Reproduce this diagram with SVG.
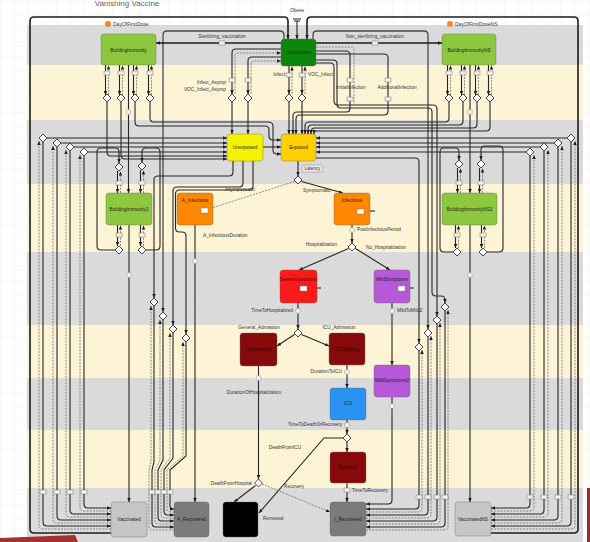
<svg xmlns="http://www.w3.org/2000/svg" width="590" height="542" viewBox="0 0 590 542">
<defs>
<style>
text{font-family:"Liberation Sans",Arial,sans-serif}
.l{font-size:4.8px;fill:#333}
.e{text-anchor:end}
.m{text-anchor:middle}
.n{font-size:4.8px;fill:#1d1d1d;text-anchor:middle}
.s{fill:none;stroke:#262626;stroke-width:1.1}
.t{fill:none;stroke:#1c1c1c;stroke-width:1.6}
.d{fill:none;stroke:#6a6a6a;stroke-width:0.75;stroke-dasharray:2 1.2}
.o{fill:none;stroke:#4a4a4a;stroke-width:1.3}
.dm{fill:#fff;stroke:#333;stroke-width:0.9}
.bx{fill:#efefef;stroke:#7a7a7a;stroke-width:0.5}
.ci{fill:#f3f3f3;stroke:#9a9a9a;stroke-width:0.6}
.a{marker-end:url(#ah)}
.nd{stroke:#666;stroke-width:0.4}
</style>
<marker id="ah" viewBox="0 0 6 6" refX="6" refY="3" markerWidth="4" markerHeight="4" markerUnits="userSpaceOnUse" orient="auto"><path d="M0,0.4 L6,3 L0,5.6 Z" fill="#1e1e1e"/></marker>
<pattern id="grid" width="14" height="14" patternUnits="userSpaceOnUse"><path d="M14,0 L0,0 0,14" fill="none" stroke="#e3e3e3" stroke-width="0.6"/></pattern>
<polygon id="dia" points="0,-4 4,0 0,4 -4,0" class="dm"/>
<rect id="box" x="-3" y="-2" width="6" height="4" class="bx"/>
<circle id="cir" r="2.5" class="ci"/>
</defs>

<rect width="590" height="542" fill="#fff"/>
<rect width="590" height="542" fill="url(#grid)"/>
<g id="lanes" opacity="0.93">
<rect x="27" y="25" width="556" height="40" fill="#d8d8d8"/>
<rect x="27" y="65" width="556" height="55" fill="#fdf4d3"/>
<rect x="27" y="120" width="556" height="64" fill="#d8d8d8"/>
<rect x="27" y="184" width="556" height="68" fill="#fdf4d3"/>
<rect x="27" y="252" width="556" height="73" fill="#d8d8d8"/>
<rect x="27" y="325" width="556" height="53" fill="#fdf4d3"/>
<rect x="27" y="378" width="556" height="52" fill="#d8d8d8"/>
<rect x="27" y="430" width="556" height="58" fill="#fdf4d3"/>
<rect x="27" y="488" width="556" height="54" fill="#d8d8d8"/>
</g>
<text x="127" y="6" style="font-size:8px;fill:#666" text-anchor="middle">Vanishing Vaccine</text>

<g id="connectors">
<path class="t a" d="M111,533 L34,533 Q30,533 30,529 L30,21 Q30,17 34,17 L284,17 Q288,17 288,21 L288,39"/>
<path class="t a" d="M491,533 L574,533 Q578,533 578,529 L578,21 Q578,17 574,17 L311,17 Q307,17 307,21 L307,39"/>
<path class="s a" d="M297,21 L297,39"/>
<path class="s" d="M293,19 L301,19 M294,21 L300,21"/>
<path class="o a" d="M284,39 L284,35 Q284,31 280,31 L167,31 Q163,31 163,35 L163,312"/>
<path class="o a" d="M313,39 L313,35 Q313,31 317,31 L424,31 Q428,31 428,35 L428,329"/>
<path class="t a" d="M281,43 L156,43"/>
<path class="t a" d="M316,43 L442,43"/>
<path class="s a" d="M105.5,65 L105.5,95"/><path class="s a" d="M119.5,65 L119.5,95"/><path class="s a" d="M133.5,65 L133.5,95"/><path class="s a" d="M148.5,65 L148.5,95"/>
<path class="d a" d="M108.5,95 L108.5,65.5"/><path class="d a" d="M122.5,95 L122.5,65.5"/><path class="d a" d="M136.5,95 L136.5,65.5"/><path class="d a" d="M151.5,95 L151.5,65.5"/>
<path class="s a" d="M447.5,65 L447.5,95"/><path class="s a" d="M461.5,65 L461.5,95"/><path class="s a" d="M475.5,65 L475.5,95"/><path class="s a" d="M488.5,65 L488.5,95"/>
<path class="d a" d="M450.5,95 L450.5,65.5"/><path class="d a" d="M464.5,95 L464.5,65.5"/><path class="d a" d="M478.5,95 L478.5,65.5"/><path class="d a" d="M491.5,95 L491.5,65.5"/>
<path class="s a" d="M128.5,65 L128.5,193"/>
<path class="s a" d="M129,225 L129,502"/>
<path class="s a" d="M470,65 L470,193"/>
<path class="s a" d="M470,225 L470,502"/>
<path class="s a" d="M107,102 L107,152 Q107,156 111,156 L227,156"/>
<path class="s a" d="M121,102 L121,155 Q121,159 125,159 L227,159"/>
<path class="s a" d="M135,102 L135,122 Q135,126 139,126 L265,126 Q269,126 269,130 L269,136 Q269,140 273,140 L281,140"/>
<path class="s a" d="M150,102 L150,118 Q150,122 154,122 L268,122 Q273,122 273,126 L273,150 Q273,154 277,154 L281,154"/>
<path class="s a" d="M263,147 L281,147"/>
<path class="s a" d="M449,102 L449,118 Q449,122 445,122 L309,122 Q305,122 305,126 L305,134"/>
<path class="s a" d="M463,102 L463,121 Q463,125 459,125 L312,125 Q308,125 308,129 L308,134"/>
<path class="s a" d="M477,102 L477,124 Q477,128 473,128 L315,128 Q311,128 311,132 L311,134"/>
<path class="s a" d="M490,102 L490,127 Q490,131 486,131 L316,131 Q314,131 314,133 L314,134"/>
<path class="s a" d="M47,138 L227,138"/>
<path class="s a" d="M61,143 L227,143"/>
<path class="s a" d="M74,147 L227,147"/>
<path class="s a" d="M88,152 L227,152"/>
<path class="s a" d="M43,142 L43,522 Q43,526 47,526 L111,526"/>
<path class="d a" d="M111,529 L43,529 Q39,529 39,525 L39,141"/>
<path class="s a" d="M57,147 L57,516 Q57,520 61,520 L111,520"/>
<path class="d a" d="M111,523 L57,523 Q53,523 53,519 L53,146"/>
<path class="s a" d="M70,151 L70,510 Q70,514 74,514 L111,514"/>
<path class="d a" d="M111,517 L70,517 Q66,517 66,513 L66,150"/>
<path class="s a" d="M84,156 L84,504 Q84,508 88,508 L111,508"/>
<path class="d a" d="M111,511 L84,511 Q80,511 80,507 L80,155"/>
<path class="s a" d="M567,138 L316,138"/>
<path class="s a" d="M554,143 L316,143"/>
<path class="s a" d="M540,147 L316,147"/>
<path class="s a" d="M526,152 L316,152"/>
<path class="s a" d="M571,142 L571,522 Q571,526 567,526 L491,526"/>
<path class="d a" d="M491,529 L571,529 Q575,529 575,525 L575,141"/>
<path class="s a" d="M558,147 L558,516 Q558,520 554,520 L491,520"/>
<path class="d a" d="M491,523 L558,523 Q562,523 562,519 L562,146"/>
<path class="s a" d="M544,151 L544,510 Q544,514 540,514 L491,514"/>
<path class="d a" d="M491,517 L544,517 Q548,517 548,513 L548,150"/>
<path class="s a" d="M530,156 L530,504 Q530,508 526,508 L491,508"/>
<path class="d a" d="M491,511 L530,511 Q534,511 534,507 L534,155"/>
<path class="s a" d="M115,250 L101,250 Q97,250 97,246 L97,152 Q97,148 101,148 L115,148 Q119,148 119,152 L119,163"/>
<path class="s a" d="M146,250 L156,250 Q160,250 160,246 L160,152 Q160,148 156,148 L146,148 Q142,148 142,152 L142,162"/>
<path class="s a" d="M117.5,171 L117.5,193"/><path class="d a" d="M120.5,193 L120.5,171.5"/>
<path class="s a" d="M140.5,170 L140.5,193"/><path class="d a" d="M143.5,193 L143.5,170.5"/>
<path class="s a" d="M117.5,225 L117.5,246"/><path class="d a" d="M120.5,246 L120.5,225.5"/>
<path class="s a" d="M140.5,225 L140.5,246"/><path class="d a" d="M143.5,246 L143.5,225.5"/>
<path class="s a" d="M453,252 L444,252 Q440,252 440,248 L440,152 Q440,148 444,148 L455,148 Q459,148 459,152 L459,160"/>
<path class="s a" d="M487,252 L499,252 Q503,252 503,248 L503,150 Q503,146 499,146 L485,146 Q481,146 481,150 L481,160"/>
<path class="s a" d="M457.5,168 L457.5,193"/><path class="d a" d="M460.5,193 L460.5,168.5"/>
<path class="s a" d="M479.5,168 L479.5,193"/><path class="d a" d="M482.5,193 L482.5,168.5"/>
<path class="s a" d="M455.5,225 L455.5,248"/><path class="d a" d="M458.5,248 L458.5,225.5"/>
<path class="s a" d="M481.5,225 L481.5,248"/><path class="d a" d="M484.5,248 L484.5,225.5"/>
<path class="s a" d="M281,49 L236,49 Q232,49 232,53 L232,94"/>
<path class="d a" d="M235,94 L235,56 Q235,53 238,53 L281,53"/>
<path class="s a" d="M281,57 L252,57 Q248,57 248,61 L248,94"/>
<path class="d a" d="M251,94 L251,64 Q251,61 254,61 L281,61"/>
<path class="s a" d="M289,66 L289,94"/><path class="d a" d="M292,94 L292,66.5"/>
<path class="s a" d="M302,66 L302,94"/><path class="d a" d="M305,94 L305,66.5"/>
<path class="s a" d="M232,102 L232,134"/>
<path class="s a" d="M248,102 L248,134"/>
<path class="s a" d="M289,102 L289,134"/>
<path class="s a" d="M302,102 L302,134"/>
<path class="s a" d="M316,51 L346,51 Q350,51 350,55 L350,108 Q350,112 346,112 L297,112 Q293,112 293,116 L293,134"/>
<path class="s a" d="M316,54 L384,54 Q388,54 388,58 L388,111 Q388,115 384,115 L300,115 Q296,115 296,119 L296,134"/>
<path class="d" d="M316,47 L350,47 Q354,47 354,51 L354,104"/>
<path class="s a" d="M316,60 L333,60 Q337,60 337,64 L337,104 Q337,108 341,108 L428,108 Q432,108 432,112 L432,292 Q432,296 436,296 L441,296 Q445,296 445,300 L445,303"/>
<path class="s a" d="M316,63 L330,63 Q334,63 334,67 L334,101 Q334,105 338,105 L433,105 Q437,105 437,109 L437,316"/>
<path class="s a" d="M316,158 L415,158 Q419,158 419,162 L419,343"/>
<path class="s a" d="M233,161 L233,172 Q233,176 229,176 L158,176 Q154,176 154,180 L154,298"/>
<path class="s a" d="M243,161 L243,183 Q243,187 239,187 L177,187 Q173,187 173,191 L173,325"/>
<path class="s a" d="M253,161 L253,186 Q253,190 249,190 L179.5,190 Q175.5,190 175.5,194 L175.5,228 Q175.5,232 179.5,232 L182,232 Q186,232 186,236 L186,334"/>
<path class="s a" d="M154,306 L154,462 L152,470 L152,523 Q152,527 156,527 L174,527"/>
<path class="d a" d="M174,530 L153,530 Q149,530 149,526 L149,470 L151,462 L151,306"/>
<path class="s a" d="M163,320 L163,460 L158,470 L158,517 Q158,521 162,521 L174,521"/>
<path class="d a" d="M174,524 L159,524 Q155,524 155,520 L155,470 L160,460 L160,320"/>
<path class="s a" d="M173,333 L173,458 L164,470 L164,511 Q164,515 168,515 L174,515"/>
<path class="d a" d="M174,518 L165,518 Q161,518 161,514 L161,470 L170,458 L170,333"/>
<path class="s a" d="M186,342 L186,456 L170,470 L170,506 Q170,509 173,509 L174,509"/>
<path class="d a" d="M174,512 L171,512 Q167,512 167,508 L167,470 L183,456 L183,342"/>
<path class="s a" d="M445,311 L445,523 Q445,527 441,527 L366,527"/>
<path class="d a" d="M366,530 L444,530 Q448,530 448,526 L448,310"/>
<path class="s a" d="M437,324 L437,517 Q437,521 433,521 L366,521"/>
<path class="d a" d="M366,524 L436,524 Q440,524 440,520 L440,323"/>
<path class="s a" d="M428,337 L428,511 Q428,515 424,515 L366,515"/>
<path class="d a" d="M366,518 L427,518 Q431,518 431,514 L431,336"/>
<path class="s a" d="M419,351 L419,505 Q419,509 415,509 L366,509"/>
<path class="d a" d="M366,512 L418,512 Q422,512 422,508 L422,350"/>
<path class="s a" d="M298,161 L298,176"/>
<path class="s a" d="M301.5,181.5 L343,193"/>
<path class="d a" d="M294.5,181.5 L208.5,209"/>
<path class="s a" d="M204.5,213 L204.5,222"/>
<path class="s a" d="M195,225 L195,502"/>
<path class="s a" d="M375,211 L364,211"/>
<path class="s a" d="M360,214 L360,222"/>
<path class="s a" d="M352,225 L352,243"/>
<path class="s a" d="M348.5,248.5 L299,270"/>
<path class="s a" d="M355.5,248.5 L390,270"/>
<path class="s a" d="M321,288 L307,288"/>
<path class="s a" d="M303.5,291 L303.5,300"/>
<path class="s a" d="M414,288 L405,288"/>
<path class="s a" d="M401.5,291 L401.5,300"/>
<path class="s a" d="M298,303 L298,329"/>
<path class="s a" d="M392,303 L392,365"/>
<path class="s a" d="M392,397 L392,500 Q392,504 388,504 L366,504"/>
<path class="s a" d="M294.5,334.5 L277,346"/>
<path class="s a" d="M301.5,334.5 L329,346"/>
<path class="s a" d="M258.5,366 L258.5,479"/>
<path class="s a" d="M347,365 L347,388"/>
<path class="s a" d="M347,420 L347,434"/>
<path class="s a" d="M347,442 L347,452"/>
<path class="s a" d="M343,438 L324,438 L259,513"/>
<path class="s a" d="M347,483 L347,502"/>
<path class="s a" d="M255.5,485.5 L234,502"/>
<path class="d a" d="M262,484 L330,512"/>
</g>

<g id="markers">
<use href="#box" x="222" y="43"/><use href="#box" x="375" y="43"/>
<use href="#box" x="107" y="73"/><use href="#box" x="121" y="73"/><use href="#box" x="135" y="73"/><use href="#box" x="150" y="73"/>
<use href="#box" x="449" y="73"/><use href="#box" x="463" y="73"/><use href="#box" x="477" y="73"/><use href="#box" x="490" y="73"/>
<use href="#box" x="232" y="80"/><use href="#box" x="248" y="80"/><use href="#box" x="289" y="75"/><use href="#box" x="302" y="75"/>
<use href="#box" x="350" y="80"/><use href="#box" x="350" y="99"/><use href="#box" x="388" y="80"/><use href="#box" x="388" y="99"/>
<use href="#box" x="119" y="183"/><use href="#box" x="142" y="183"/><use href="#box" x="119" y="235"/><use href="#box" x="142" y="235"/>
<use href="#box" x="459" y="183"/><use href="#box" x="481" y="183"/><use href="#box" x="457" y="235"/><use href="#box" x="483" y="235"/>
<use href="#box" x="43" y="492"/><use href="#box" x="57" y="492"/><use href="#box" x="70" y="492"/><use href="#box" x="84" y="492"/>
<use href="#box" x="152" y="492"/><use href="#box" x="158" y="492"/><use href="#box" x="164" y="492"/><use href="#box" x="170" y="492"/>
<use href="#box" x="419" y="497"/><use href="#box" x="428" y="497"/><use href="#box" x="437" y="497"/><use href="#box" x="445" y="497"/>
<use href="#box" x="530" y="497"/><use href="#box" x="544" y="497"/><use href="#box" x="558" y="497"/><use href="#box" x="571" y="497"/>
<use href="#box" x="347" y="490"/>
<use href="#cir" x="128.5" y="112"/><use href="#cir" x="129" y="275"/><use href="#cir" x="470" y="112"/><use href="#cir" x="470" y="275"/>
<use href="#cir" x="195" y="261"/><use href="#cir" x="352" y="230"/><use href="#cir" x="298" y="311"/><use href="#cir" x="392" y="311"/>
<use href="#cir" x="258.5" y="378"/><use href="#cir" x="347" y="372"/><use href="#cir" x="347" y="425"/><use href="#cir" x="392" y="406"/>
</g>

<g id="decisions">
<g id="d-bi1"><use href="#dia" x="107" y="98"/></g><g id="d-bi2"><use href="#dia" x="121" y="98"/></g><g id="d-bi3"><use href="#dia" x="135" y="98"/></g><g id="d-bi4"><use href="#dia" x="150" y="98"/></g>
<g id="d-bins1"><use href="#dia" x="449" y="98"/></g><g id="d-bins2"><use href="#dia" x="463" y="98"/></g><g id="d-bins3"><use href="#dia" x="477" y="98"/></g><g id="d-bins4"><use href="#dia" x="490" y="98"/></g>
<g id="d-infasymp"><use href="#dia" x="232" y="98"/></g><g id="d-vocasymp"><use href="#dia" x="248" y="98"/></g><g id="d-infect"><use href="#dia" x="289" y="98"/></g><g id="d-vocinfect"><use href="#dia" x="302" y="98"/></g>
<g id="d-l1"><use href="#dia" x="43" y="138"/></g><g id="d-l2"><use href="#dia" x="57" y="143"/></g><g id="d-l3"><use href="#dia" x="70" y="147"/></g><g id="d-l4"><use href="#dia" x="84" y="152"/></g>
<g id="d-r1"><use href="#dia" x="571" y="138"/></g><g id="d-r2"><use href="#dia" x="558" y="143"/></g><g id="d-r3"><use href="#dia" x="544" y="147"/></g><g id="d-r4"><use href="#dia" x="530" y="152"/></g>
<g id="d-bi2t1"><use href="#dia" x="119" y="167"/></g><g id="d-bi2t2"><use href="#dia" x="142" y="166"/></g><g id="d-bi2b1"><use href="#dia" x="119" y="250"/></g><g id="d-bi2b2"><use href="#dia" x="142" y="250"/></g>
<g id="d-bins2t1"><use href="#dia" x="459" y="164"/></g><g id="d-bins2t2"><use href="#dia" x="481" y="164"/></g><g id="d-bins2b1"><use href="#dia" x="457" y="252"/></g><g id="d-bins2b2"><use href="#dia" x="483" y="252"/></g>
<g id="d-lm1"><use href="#dia" x="154" y="302"/></g><g id="d-lm2"><use href="#dia" x="163" y="316"/></g><g id="d-lm3"><use href="#dia" x="173" y="329"/></g><g id="d-lm4"><use href="#dia" x="186" y="338"/></g>
<g id="d-rm1"><use href="#dia" x="445" y="307"/></g><g id="d-rm2"><use href="#dia" x="437" y="320"/></g><g id="d-rm3"><use href="#dia" x="428" y="333"/></g><g id="d-rm4"><use href="#dia" x="419" y="347"/></g>
<g id="d-symptomatic"><use href="#dia" x="298" y="180"/></g>
<g id="d-hospitalization"><use href="#dia" x="352" y="247"/></g>
<g id="d-admission"><use href="#dia" x="298" y="333"/></g>
<g id="d-icuoutcome"><use href="#dia" x="347" y="438"/></g>
<g id="d-hospoutcome"><use href="#dia" x="258.5" y="483"/></g>
</g>

<g id="nodes">
<g id="n-dayoffirstdose"><circle cx="108" cy="24" r="3" fill="#ee8636"/><text class="l" x="113" y="26" style="font-size:5px">DayOfFirstDose</text></g>
<g id="n-dayoffirstdosens"><circle cx="450" cy="24" r="3" fill="#ee8636"/><text class="l" x="455" y="26" style="font-size:5px">DayOfFirstDoseNS</text></g>
<g id="n-obese"><text class="l m" x="297" y="12">Obese</text></g>
<g id="n-buildingimmunity"><rect x="101" y="34" width="55" height="31" rx="3" fill="#8dc63f" class="nd"/><text class="n" x="128.5" y="51.5">BuildingImmunity</text></g>
<g id="n-susceptible"><rect x="281" y="39" width="35" height="27" rx="3" fill="#0a870c" class="nd"/><text class="n" x="298.5" y="54" style="fill:#0b3a0b">Susceptible</text></g>
<g id="n-buildingimmunityns"><rect x="442" y="34" width="54" height="31" rx="3" fill="#8dc63f" class="nd"/><text class="n" x="469" y="51.5">BuildingImmunityNS</text></g>
<g id="n-unexposed"><rect x="227" y="134" width="36" height="27" rx="3" fill="#f4f200" class="nd"/><text class="n" x="245" y="149">Unexposed</text></g>
<g id="n-exposed"><rect x="281" y="134" width="35" height="27" rx="3" fill="#ffd000" class="nd"/><text class="n" x="298.5" y="149">Exposed</text></g>
<g id="n-latency"><rect x="302" y="165" width="21" height="7" rx="2" fill="#e9e9e9" stroke="#888" stroke-width="0.5"/><text class="l m" x="312.5" y="170.3" style="font-size:4.5px">Latency</text></g>
<g id="n-buildingimmunity2"><rect x="106" y="193" width="46" height="32" rx="3" fill="#8dc63f" class="nd"/><text class="n" x="129" y="210.5">BuildingImmunity2</text></g>
<g id="n-ainfectious"><rect x="177" y="193" width="36" height="32" rx="3" fill="#ff8800" class="nd"/><text class="n" x="195" y="202">A_Infectious</text><rect x="201" y="208" width="7" height="5" fill="#fff" stroke="#777" stroke-width="0.4"/></g>
<g id="n-infectious"><rect x="334" y="193" width="36" height="32" rx="3" fill="#ff8800" class="nd"/><text class="n" x="352" y="202">Infectious</text><rect x="357" y="209" width="7" height="5" fill="#fff" stroke="#777" stroke-width="0.4"/></g>
<g id="n-buildingimmunityns2"><rect x="442" y="193" width="55" height="32" rx="3" fill="#8dc63f" class="nd"/><text class="n" x="469.5" y="210.5">BuildingImmunityNS2</text></g>
<g id="n-severe"><rect x="280" y="270" width="37" height="33" rx="3" fill="#ff1a1a" class="nd"/><text class="n" x="298.5" y="281" style="fill:#5a0000">SevereSymptoms</text><rect x="300" y="286" width="7" height="5" fill="#fff" stroke="#777" stroke-width="0.4"/></g>
<g id="n-mild"><rect x="374" y="270" width="36" height="33" rx="3" fill="#b559d8" class="nd"/><text class="n" x="392" y="281">MildSymptoms</text><rect x="398" y="286" width="7" height="5" fill="#fff" stroke="#777" stroke-width="0.4"/></g>
<g id="n-hospitalized"><rect x="240" y="333" width="37" height="33" rx="3" fill="#870a0a" class="nd"/><text class="n" x="258.5" y="351" style="fill:#3a0000">Hospitalized</text></g>
<g id="n-icuwaiting"><rect x="329" y="333" width="36" height="32" rx="3" fill="#870a0a" class="nd"/><text class="n" x="347" y="351" style="fill:#3a0000">ICUWaiting</text></g>
<g id="n-mild2"><rect x="374" y="365" width="36" height="32" rx="3" fill="#b559d8" class="nd"/><text class="n" x="392" y="382">MildSymptoms2</text></g>
<g id="n-icu"><rect x="330" y="388" width="36" height="32" rx="3" fill="#2a93f0" class="nd"/><text class="n" x="348" y="405">ICU</text></g>
<g id="n-posticu"><rect x="330" y="452" width="36" height="31" rx="3" fill="#870a0a" class="nd"/><text class="n" x="348" y="469" style="fill:#3a0000">PostICU</text></g>
<g id="n-vaccinated"><rect x="111" y="502" width="36" height="35" rx="3" fill="#c6c6c6" class="nd"/><text class="n" x="129" y="521">Vaccinated</text></g>
<g id="n-arecovered"><rect x="174" y="502" width="35" height="35" rx="3" fill="#7b7b7b" class="nd"/><text class="n" x="191.5" y="521">A_Recovered</text></g>
<g id="n-removed"><rect x="223" y="502" width="35" height="35" rx="3" fill="#000" class="nd"/></g>
<g id="n-irecovered"><rect x="330" y="502" width="36" height="34" rx="3" fill="#7b7b7b" class="nd"/><text class="n" x="348" y="520.5">I_Recovered</text></g>
<g id="n-vaccinatedns"><rect x="455" y="502" width="36" height="34" rx="3" fill="#c6c6c6" class="nd"/><text class="n" x="473" y="520.5">VaccinatedNS</text></g>
</g>

<g id="labels">
<text class="l m" x="222" y="38">Sterilizing_vaccination</text>
<text class="l m" x="375" y="38">Non_sterilizing_vaccination</text>
<text class="l e" x="226" y="84">Infect_Asymp</text>
<text class="l e" x="226" y="91">VOC_Infect_Asymp</text>
<text class="l e" x="285" y="76">Infect</text>
<text class="l" x="308" y="76">VOC_Infect</text>
<text class="l m" x="351" y="89">InitialInfection</text>
<text class="l m" x="397" y="89">AdditionalInfection</text>
<text class="l m" x="240" y="191">Asymptomatic</text>
<text class="l" x="303" y="192">Symptomatic</text>
<text class="l" x="203" y="237">A_InfectiousDuration</text>
<text class="l" x="357" y="231">PostInfectiousPeriod</text>
<text class="l e" x="337" y="246">Hospitalization</text>
<text class="l" x="366" y="249">No_Hospitalization</text>
<text class="l e" x="293" y="312">TimeToHospitalized</text>
<text class="l" x="397" y="312">MildToMild2</text>
<text class="l m" x="259" y="329">General_Admission</text>
<text class="l m" x="339" y="329">ICU_Admission</text>
<text class="l e" x="342" y="373">DurationToICU</text>
<text class="l m" x="254" y="394">DurationOfHospitalization</text>
<text class="l e" x="342" y="426">TimeToDeathOrRecovery</text>
<text class="l m" x="285" y="449">DeathFromICU</text>
<text class="l e" x="252" y="485">DeathFromHospital</text>
<text class="l" x="284" y="488">Recovery</text>
<text class="l" x="263" y="520">Removed</text>
<text class="l" x="352" y="492">TimeToRecovery</text>
</g>

<polygon points="0,538 75,535 78,542 0,542" fill="#a3312f"/>
<polygon points="587,488 590,488 590,542 587,542" fill="#9e2a2b"/>
</svg>
